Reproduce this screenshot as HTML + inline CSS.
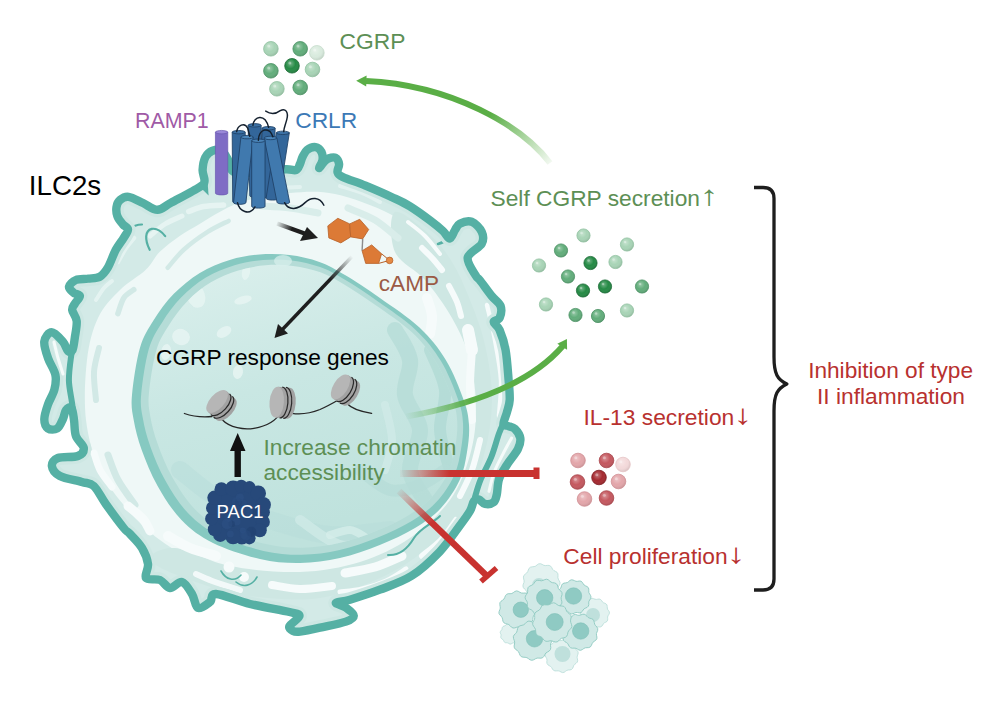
<!DOCTYPE html>
<html><head><meta charset="utf-8"><title>ILC2 CGRP</title>
<style>html,body{margin:0;padding:0;background:#fff}svg{display:block}text{font-family:"Liberation Sans",sans-serif}</style>
</head><body>
<svg width="1004" height="702" viewBox="0 0 1004 702">
<rect width="1004" height="702" fill="#fff"/>
<defs>
<clipPath id="cellclip"><path d="M199.7 187.0C205.2 183.4 204.0 183.8 204.5 181.0C205.0 178.2 202.4 173.9 202.6 169.9C202.8 165.9 203.8 160.3 205.4 157.1C207.1 153.9 209.7 151.7 212.5 150.7C215.3 149.7 219.4 149.4 222.0 151.0C224.6 152.6 226.2 156.5 228.2 160.0C230.2 163.5 228.6 170.0 233.9 172.0C239.2 174.0 251.4 172.5 260.0 172.0C268.6 171.5 279.7 169.5 285.7 169.2C291.7 168.9 293.6 170.9 296.0 170.0C298.4 169.1 298.9 166.2 300.0 164.0C301.1 161.8 301.3 159.3 302.5 157.0C303.7 154.7 304.8 151.7 307.0 150.0C309.2 148.3 313.2 146.8 315.6 147.1C318.0 147.4 320.4 149.8 321.5 152.0C322.6 154.2 322.9 157.3 322.5 160.0C322.1 162.7 318.8 167.7 319.0 168.0C319.2 168.3 322.4 163.6 324.0 162.0C325.6 160.4 326.5 159.2 328.4 158.5C330.3 157.8 333.8 156.9 335.6 157.8C337.4 158.8 338.8 161.8 339.1 164.2C339.4 166.6 336.9 169.9 337.5 172.0C338.1 174.1 338.0 174.7 342.7 177.0C347.4 179.3 357.3 182.2 365.5 185.6C373.7 189.0 384.6 193.7 392.0 197.2C399.4 200.7 403.7 202.5 410.0 206.4C416.3 210.3 424.5 216.3 430.0 220.4C435.5 224.5 439.7 228.0 443.0 231.0C446.3 234.0 447.8 238.7 449.8 238.5C451.8 238.3 453.3 232.5 455.0 230.0C456.7 227.5 457.0 225.1 459.8 223.7C462.6 222.3 468.1 220.5 471.7 221.8C475.3 223.1 480.0 228.0 481.7 231.7C483.4 235.3 484.0 239.4 481.7 243.7C479.4 248.0 468.7 252.3 467.7 257.6C466.7 262.9 473.7 271.9 475.7 275.6C477.7 279.3 477.0 276.6 479.7 280.0C482.4 283.4 488.2 291.7 491.7 296.0C495.2 300.3 499.3 302.3 500.6 306.0C501.9 309.7 500.8 315.3 499.6 318.0C498.5 320.7 493.7 320.0 493.7 322.0C493.7 324.0 497.6 325.3 499.6 330.0C501.6 334.7 504.1 341.7 505.6 350.0C507.1 358.3 507.9 371.7 508.6 380.0C509.3 388.3 510.0 394.7 509.7 400.0C509.4 405.3 508.0 408.0 507.0 412.0C506.0 416.0 503.3 421.7 503.5 424.0C503.7 426.3 506.1 425.2 508.0 426.0C509.9 426.8 512.8 426.8 514.8 428.8C516.8 430.8 519.8 434.8 520.3 438.2C520.8 441.6 520.1 444.7 517.9 449.1C515.7 453.5 510.1 459.8 507.0 464.8C503.9 469.8 500.8 473.9 499.1 478.9C497.4 483.8 497.7 490.6 496.8 494.5C495.9 498.4 495.6 500.7 493.6 502.3C491.6 503.9 487.4 504.4 485.0 503.9C482.6 503.4 480.8 500.0 479.0 499.5C477.2 499.0 475.5 499.1 474.0 501.0C472.5 502.9 472.4 506.8 470.0 511.0C467.6 515.2 464.6 519.2 459.5 526.0C454.4 532.8 447.6 543.5 439.6 551.8C431.6 560.1 421.7 569.5 411.7 575.8C401.7 582.1 390.1 585.7 379.8 589.7C369.5 593.7 357.2 597.5 349.9 599.7C342.6 601.9 336.6 601.4 335.9 602.7C335.2 604.0 342.9 605.5 345.9 607.7C348.9 609.9 353.8 613.4 353.8 615.7C353.8 618.0 351.5 619.6 345.9 621.6C340.3 623.6 327.6 625.9 320.0 627.6C312.4 629.3 304.5 631.0 300.0 631.6C295.5 632.2 294.8 631.9 293.0 631.0C291.2 630.1 288.4 628.5 289.5 626.0C290.6 623.5 299.5 618.3 299.5 616.0C299.5 613.7 297.8 614.0 289.5 612.0C281.2 610.0 262.2 607.0 250.0 604.0C237.8 601.0 222.7 594.3 216.0 594.0C209.3 593.7 213.0 599.7 210.0 602.0C207.0 604.3 201.0 609.3 198.0 608.0C195.0 606.7 194.7 598.3 192.0 594.0C189.3 589.7 185.7 583.0 182.0 582.0C178.3 581.0 173.7 588.3 170.0 588.0C166.3 587.7 164.0 581.7 160.0 580.0C156.0 578.3 148.0 580.7 146.0 578.0C144.0 575.3 148.7 569.0 148.0 564.0C147.3 559.0 145.0 553.0 142.0 548.0C139.0 543.0 133.1 537.3 130.0 534.0C127.0 530.7 127.7 533.0 123.7 528.0C119.7 523.0 110.8 511.0 105.8 504.0C100.8 497.0 97.8 489.7 93.8 486.0C89.8 482.3 87.5 483.7 81.8 482.0C76.1 480.3 64.9 478.7 59.9 476.0C54.9 473.3 52.2 469.0 51.9 466.0C51.6 463.0 53.6 459.7 57.9 458.0C62.2 456.3 73.6 457.7 77.9 456.0C82.2 454.3 84.1 451.3 83.8 448.0C83.5 444.7 77.5 440.7 75.9 436.0C74.3 431.3 74.7 424.7 74.0 420.0C73.3 415.3 72.8 409.7 71.5 408.0C70.2 406.3 67.5 408.1 66.0 410.0C64.5 411.9 64.3 416.2 62.8 419.3C61.3 422.4 59.7 427.0 57.2 428.5C54.7 430.0 50.1 430.0 48.0 428.5C45.9 427.0 44.3 423.3 44.3 419.3C44.3 415.3 46.3 409.3 48.0 404.4C49.7 399.4 53.2 394.5 54.4 389.6C55.6 384.7 56.5 380.1 55.4 374.8C54.3 369.6 49.9 363.7 48.0 358.1C46.1 352.6 43.7 345.8 44.3 341.5C44.9 337.2 48.6 332.2 51.7 332.2C54.8 332.2 60.1 338.4 62.8 341.5C65.5 344.6 66.4 349.6 68.0 351.0C69.6 352.4 71.4 352.2 72.5 350.0C73.6 347.8 74.1 342.6 74.8 337.8C75.5 333.0 77.1 325.7 76.7 321.1C76.3 316.5 72.5 312.9 72.2 310.0C71.9 307.1 73.6 305.9 74.9 303.6C76.2 301.3 80.1 297.8 79.9 296.0C79.7 294.2 75.3 294.2 73.5 292.7C71.7 291.1 68.6 288.8 69.0 286.7C69.4 284.6 72.8 281.3 75.9 280.0C79.1 278.7 83.9 279.2 87.9 278.7C91.9 278.1 96.5 278.5 99.8 276.7C103.1 274.9 105.1 272.2 107.8 267.7C110.5 263.2 113.1 254.8 115.8 249.8C118.5 244.8 121.7 241.2 123.7 237.8C125.7 234.4 128.1 231.7 128.0 229.5C127.9 227.3 124.8 226.7 123.0 224.5C121.2 222.3 118.6 219.4 117.5 216.5C116.4 213.6 116.1 209.8 116.5 207.0C116.9 204.2 118.0 201.7 120.0 200.0C122.0 198.3 124.7 196.3 128.5 196.8C132.3 197.3 138.2 200.8 143.0 203.0C147.8 205.2 152.8 209.9 157.5 209.8C162.2 209.7 164.2 206.4 171.2 202.6C178.2 198.8 194.1 190.6 199.7 187.0Z"/></clipPath>
<clipPath id="nucclip"><path d="M132.0 395.0C133.1 382.9 136.3 360.2 140.0 347.7C143.7 335.2 148.3 328.8 153.9 319.8C159.5 310.8 166.2 301.6 173.8 293.8C181.5 286.0 190.5 278.5 199.8 272.9C209.1 267.2 219.7 263.0 229.7 259.9C239.7 256.8 249.6 255.2 259.6 254.4C269.6 253.6 279.5 253.8 289.5 255.0C299.5 256.2 310.1 258.6 319.4 261.9C328.6 265.2 335.0 269.0 345.0 275.0C355.0 281.0 367.2 288.9 379.6 297.7C392.0 306.5 408.5 317.2 419.5 327.6C430.5 338.0 438.4 347.9 445.8 360.0C453.2 372.1 459.8 389.2 463.7 400.0C467.6 410.8 468.4 416.3 469.0 425.0C469.6 433.7 468.5 442.9 467.0 452.0C465.5 461.1 464.1 470.5 459.8 479.8C455.5 489.1 448.5 500.0 441.0 508.0C433.5 516.0 425.2 521.8 415.0 528.0C404.8 534.2 392.3 540.0 379.8 545.0C367.3 550.0 353.2 555.0 339.9 558.0C326.6 561.0 313.3 562.8 300.0 563.0C286.7 563.2 274.5 562.3 260.0 559.0C245.5 555.7 226.1 549.5 213.0 543.0C199.9 536.5 190.7 529.5 181.5 520.0C172.3 510.5 164.2 497.7 157.6 486.0C151.0 474.3 145.7 461.0 141.7 450.0C137.7 439.0 135.3 429.2 133.7 420.0C132.1 410.8 130.9 407.1 132.0 395.0Z"/></clipPath>
<linearGradient id="nucg" x1="0" y1="0" x2="0.3" y2="1"><stop offset="0" stop-color="#dcf0ed"/><stop offset="0.5" stop-color="#c9e7e3"/><stop offset="1" stop-color="#bfe2dd"/></linearGradient>
<radialGradient id="gd" cx="0.4" cy="0.35" r="0.7"><stop offset="0" stop-color="#fff" stop-opacity="0.35"/><stop offset="0.5" stop-color="#fff" stop-opacity="0"/><stop offset="1" stop-color="#000" stop-opacity="0.15"/></radialGradient>
<linearGradient id="ga1" gradientUnits="userSpaceOnUse" x1="556" y1="167" x2="492" y2="112"><stop offset="0" stop-color="#5aae46" stop-opacity="0"/><stop offset="1" stop-color="#5aae46" stop-opacity="1"/></linearGradient>
<linearGradient id="ga2" gradientUnits="userSpaceOnUse" x1="405" y1="415" x2="470" y2="400"><stop offset="0" stop-color="#5aae46" stop-opacity="0"/><stop offset="1" stop-color="#5aae46" stop-opacity="1"/></linearGradient>
<linearGradient id="gr1" gradientUnits="userSpaceOnUse" x1="398" y1="474" x2="450" y2="474"><stop offset="0" stop-color="#c8322f" stop-opacity="0"/><stop offset="1" stop-color="#c8322f" stop-opacity="1"/></linearGradient>
<linearGradient id="gr2" gradientUnits="userSpaceOnUse" x1="397" y1="489" x2="432" y2="523"><stop offset="0" stop-color="#c8322f" stop-opacity="0"/><stop offset="1" stop-color="#c8322f" stop-opacity="1"/></linearGradient>
<linearGradient id="gb1" gradientUnits="userSpaceOnUse" x1="276" y1="223" x2="292" y2="229"><stop offset="0" stop-color="#1e1e1e" stop-opacity="0"/><stop offset="1" stop-color="#1e1e1e" stop-opacity="1"/></linearGradient>
<linearGradient id="gb2" gradientUnits="userSpaceOnUse" x1="352" y1="256" x2="330" y2="280"><stop offset="0" stop-color="#1e1e1e" stop-opacity="0"/><stop offset="1" stop-color="#1e1e1e" stop-opacity="1"/></linearGradient>
</defs>
<path d="M199.7 187.0C205.2 183.4 204.0 183.8 204.5 181.0C205.0 178.2 202.4 173.9 202.6 169.9C202.8 165.9 203.8 160.3 205.4 157.1C207.1 153.9 209.7 151.7 212.5 150.7C215.3 149.7 219.4 149.4 222.0 151.0C224.6 152.6 226.2 156.5 228.2 160.0C230.2 163.5 228.6 170.0 233.9 172.0C239.2 174.0 251.4 172.5 260.0 172.0C268.6 171.5 279.7 169.5 285.7 169.2C291.7 168.9 293.6 170.9 296.0 170.0C298.4 169.1 298.9 166.2 300.0 164.0C301.1 161.8 301.3 159.3 302.5 157.0C303.7 154.7 304.8 151.7 307.0 150.0C309.2 148.3 313.2 146.8 315.6 147.1C318.0 147.4 320.4 149.8 321.5 152.0C322.6 154.2 322.9 157.3 322.5 160.0C322.1 162.7 318.8 167.7 319.0 168.0C319.2 168.3 322.4 163.6 324.0 162.0C325.6 160.4 326.5 159.2 328.4 158.5C330.3 157.8 333.8 156.9 335.6 157.8C337.4 158.8 338.8 161.8 339.1 164.2C339.4 166.6 336.9 169.9 337.5 172.0C338.1 174.1 338.0 174.7 342.7 177.0C347.4 179.3 357.3 182.2 365.5 185.6C373.7 189.0 384.6 193.7 392.0 197.2C399.4 200.7 403.7 202.5 410.0 206.4C416.3 210.3 424.5 216.3 430.0 220.4C435.5 224.5 439.7 228.0 443.0 231.0C446.3 234.0 447.8 238.7 449.8 238.5C451.8 238.3 453.3 232.5 455.0 230.0C456.7 227.5 457.0 225.1 459.8 223.7C462.6 222.3 468.1 220.5 471.7 221.8C475.3 223.1 480.0 228.0 481.7 231.7C483.4 235.3 484.0 239.4 481.7 243.7C479.4 248.0 468.7 252.3 467.7 257.6C466.7 262.9 473.7 271.9 475.7 275.6C477.7 279.3 477.0 276.6 479.7 280.0C482.4 283.4 488.2 291.7 491.7 296.0C495.2 300.3 499.3 302.3 500.6 306.0C501.9 309.7 500.8 315.3 499.6 318.0C498.5 320.7 493.7 320.0 493.7 322.0C493.7 324.0 497.6 325.3 499.6 330.0C501.6 334.7 504.1 341.7 505.6 350.0C507.1 358.3 507.9 371.7 508.6 380.0C509.3 388.3 510.0 394.7 509.7 400.0C509.4 405.3 508.0 408.0 507.0 412.0C506.0 416.0 503.3 421.7 503.5 424.0C503.7 426.3 506.1 425.2 508.0 426.0C509.9 426.8 512.8 426.8 514.8 428.8C516.8 430.8 519.8 434.8 520.3 438.2C520.8 441.6 520.1 444.7 517.9 449.1C515.7 453.5 510.1 459.8 507.0 464.8C503.9 469.8 500.8 473.9 499.1 478.9C497.4 483.8 497.7 490.6 496.8 494.5C495.9 498.4 495.6 500.7 493.6 502.3C491.6 503.9 487.4 504.4 485.0 503.9C482.6 503.4 480.8 500.0 479.0 499.5C477.2 499.0 475.5 499.1 474.0 501.0C472.5 502.9 472.4 506.8 470.0 511.0C467.6 515.2 464.6 519.2 459.5 526.0C454.4 532.8 447.6 543.5 439.6 551.8C431.6 560.1 421.7 569.5 411.7 575.8C401.7 582.1 390.1 585.7 379.8 589.7C369.5 593.7 357.2 597.5 349.9 599.7C342.6 601.9 336.6 601.4 335.9 602.7C335.2 604.0 342.9 605.5 345.9 607.7C348.9 609.9 353.8 613.4 353.8 615.7C353.8 618.0 351.5 619.6 345.9 621.6C340.3 623.6 327.6 625.9 320.0 627.6C312.4 629.3 304.5 631.0 300.0 631.6C295.5 632.2 294.8 631.9 293.0 631.0C291.2 630.1 288.4 628.5 289.5 626.0C290.6 623.5 299.5 618.3 299.5 616.0C299.5 613.7 297.8 614.0 289.5 612.0C281.2 610.0 262.2 607.0 250.0 604.0C237.8 601.0 222.7 594.3 216.0 594.0C209.3 593.7 213.0 599.7 210.0 602.0C207.0 604.3 201.0 609.3 198.0 608.0C195.0 606.7 194.7 598.3 192.0 594.0C189.3 589.7 185.7 583.0 182.0 582.0C178.3 581.0 173.7 588.3 170.0 588.0C166.3 587.7 164.0 581.7 160.0 580.0C156.0 578.3 148.0 580.7 146.0 578.0C144.0 575.3 148.7 569.0 148.0 564.0C147.3 559.0 145.0 553.0 142.0 548.0C139.0 543.0 133.1 537.3 130.0 534.0C127.0 530.7 127.7 533.0 123.7 528.0C119.7 523.0 110.8 511.0 105.8 504.0C100.8 497.0 97.8 489.7 93.8 486.0C89.8 482.3 87.5 483.7 81.8 482.0C76.1 480.3 64.9 478.7 59.9 476.0C54.9 473.3 52.2 469.0 51.9 466.0C51.6 463.0 53.6 459.7 57.9 458.0C62.2 456.3 73.6 457.7 77.9 456.0C82.2 454.3 84.1 451.3 83.8 448.0C83.5 444.7 77.5 440.7 75.9 436.0C74.3 431.3 74.7 424.7 74.0 420.0C73.3 415.3 72.8 409.7 71.5 408.0C70.2 406.3 67.5 408.1 66.0 410.0C64.5 411.9 64.3 416.2 62.8 419.3C61.3 422.4 59.7 427.0 57.2 428.5C54.7 430.0 50.1 430.0 48.0 428.5C45.9 427.0 44.3 423.3 44.3 419.3C44.3 415.3 46.3 409.3 48.0 404.4C49.7 399.4 53.2 394.5 54.4 389.6C55.6 384.7 56.5 380.1 55.4 374.8C54.3 369.6 49.9 363.7 48.0 358.1C46.1 352.6 43.7 345.8 44.3 341.5C44.9 337.2 48.6 332.2 51.7 332.2C54.8 332.2 60.1 338.4 62.8 341.5C65.5 344.6 66.4 349.6 68.0 351.0C69.6 352.4 71.4 352.2 72.5 350.0C73.6 347.8 74.1 342.6 74.8 337.8C75.5 333.0 77.1 325.7 76.7 321.1C76.3 316.5 72.5 312.9 72.2 310.0C71.9 307.1 73.6 305.9 74.9 303.6C76.2 301.3 80.1 297.8 79.9 296.0C79.7 294.2 75.3 294.2 73.5 292.7C71.7 291.1 68.6 288.8 69.0 286.7C69.4 284.6 72.8 281.3 75.9 280.0C79.1 278.7 83.9 279.2 87.9 278.7C91.9 278.1 96.5 278.5 99.8 276.7C103.1 274.9 105.1 272.2 107.8 267.7C110.5 263.2 113.1 254.8 115.8 249.8C118.5 244.8 121.7 241.2 123.7 237.8C125.7 234.4 128.1 231.7 128.0 229.5C127.9 227.3 124.8 226.7 123.0 224.5C121.2 222.3 118.6 219.4 117.5 216.5C116.4 213.6 116.1 209.8 116.5 207.0C116.9 204.2 118.0 201.7 120.0 200.0C122.0 198.3 124.7 196.3 128.5 196.8C132.3 197.3 138.2 200.8 143.0 203.0C147.8 205.2 152.8 209.9 157.5 209.8C162.2 209.7 164.2 206.4 171.2 202.6C178.2 198.8 194.1 190.6 199.7 187.0Z" fill="#d3eae7"/>
<g clip-path="url(#cellclip)">
<path d="M145.8 269.8C152.4 263.4 154.2 257.4 159.8 251.8C165.5 246.2 173.1 240.6 179.7 235.9C186.3 231.2 192.9 227.9 199.6 223.9C206.2 219.9 212.0 215.7 219.6 211.9C227.2 208.1 233.3 204.2 245.0 201.0C256.7 197.8 275.0 194.2 290.0 193.0C305.0 191.8 318.3 190.5 335.0 194.0C351.7 197.5 375.0 206.3 390.0 214.0C405.0 221.7 416.7 229.8 425.0 240.0C433.3 250.2 435.0 265.0 440.0 275.0C445.0 285.0 450.0 289.2 455.0 300.0C460.0 310.8 465.8 323.3 470.0 340.0C474.2 356.7 480.0 378.3 480.0 400.0C480.0 421.7 476.7 450.0 470.0 470.0C463.3 490.0 452.5 505.7 440.0 520.0C427.5 534.3 413.3 547.0 395.0 556.0C376.7 565.0 352.5 571.0 330.0 574.0C307.5 577.0 281.7 576.0 260.0 574.0C238.3 572.0 216.7 567.7 200.0 562.0C183.3 556.3 172.0 548.7 160.0 540.0C148.0 531.3 138.0 521.7 128.0 510.0C118.0 498.3 107.0 485.0 100.0 470.0C93.0 455.0 88.2 438.3 86.0 420.0C83.8 401.7 85.0 377.0 87.0 360.0C89.0 343.0 92.5 329.7 98.0 318.0C103.5 306.3 112.0 298.0 120.0 290.0C128.0 282.0 139.2 276.2 145.8 269.8Z" fill="#eff8f7"/>
<path d="M395.0 212.0C400.8 209.2 420.5 226.7 430.0 235.0C439.5 243.3 445.3 251.2 452.0 262.0C458.7 272.8 464.5 286.2 470.0 300.0C475.5 313.8 481.3 328.3 485.0 345.0C488.7 361.7 492.2 381.7 492.0 400.0C491.8 418.3 489.0 436.7 484.0 455.0C479.0 473.3 471.8 494.2 462.0 510.0C452.2 525.8 438.7 538.7 425.0 550.0C411.3 561.3 397.5 570.0 380.0 578.0C362.5 586.0 341.7 595.0 320.0 598.0C298.3 601.0 271.7 599.0 250.0 596.0C228.3 593.0 206.7 586.0 190.0 580.0C173.3 574.0 152.5 565.3 150.0 560.0C147.5 554.7 161.7 547.0 175.0 548.0C188.3 549.0 209.2 562.0 230.0 566.0C250.8 570.0 278.3 572.7 300.0 572.0C321.7 571.3 341.7 567.7 360.0 562.0C378.3 556.3 395.0 548.3 410.0 538.0C425.0 527.7 440.0 513.8 450.0 500.0C460.0 486.2 465.7 470.0 470.0 455.0C474.3 440.0 476.0 425.8 476.0 410.0C476.0 394.2 474.0 375.3 470.0 360.0C466.0 344.7 459.5 331.3 452.0 318.0C444.5 304.7 434.5 291.0 425.0 280.0C415.5 269.0 400.0 263.3 395.0 252.0C390.0 240.7 389.2 214.8 395.0 212.0Z" fill="#cee7e3"/>
<path d="M188.7 211.5C191.2 210.7 197.8 207.6 203.6 206.5C209.4 205.4 220.3 205.2 223.6 205.0" fill="none" stroke="#e6f4f2" stroke-width="5.5" stroke-linecap="round" stroke-linejoin="round" opacity="1"/>
<path d="M150.0 236.0C152.5 234.0 159.7 227.3 165.0 224.0C170.3 220.7 179.2 217.3 182.0 216.0" fill="none" stroke="#e6f4f2" stroke-width="5" stroke-linecap="round" stroke-linejoin="round" opacity="1"/>
<path d="M118.0 262.0C119.3 259.7 123.3 252.0 126.0 248.0C128.7 244.0 132.7 239.7 134.0 238.0" fill="none" stroke="#e6f4f2" stroke-width="4.5" stroke-linecap="round" stroke-linejoin="round" opacity="0.9"/>
<path d="M96.0 300.0C97.3 298.0 101.3 291.2 104.0 288.0C106.7 284.8 110.7 282.2 112.0 281.0" fill="none" stroke="#e6f4f2" stroke-width="4" stroke-linecap="round" stroke-linejoin="round" opacity="0.9"/>
<path d="M250.0 192.0C254.2 191.3 266.7 188.8 275.0 188.0C283.3 187.2 295.8 187.2 300.0 187.0" fill="none" stroke="#e6f4f2" stroke-width="4" stroke-linecap="round" stroke-linejoin="round" opacity="0.8"/>
<path d="M340.0 186.0C343.7 187.2 355.3 190.3 362.0 193.0C368.7 195.7 377.0 200.5 380.0 202.0" fill="none" stroke="#e6f4f2" stroke-width="4" stroke-linecap="round" stroke-linejoin="round" opacity="0.8"/>
<path d="M167.7 267.8C170.4 264.8 177.0 255.8 183.7 249.8C190.3 243.8 200.1 236.7 207.6 231.9C215.1 227.1 225.1 222.7 228.6 220.9" fill="none" stroke="#d2e9e6" stroke-width="4.5" stroke-linecap="round" stroke-linejoin="round" opacity="1"/>
<path d="M117.9 313.6C118.9 311.0 121.2 301.7 123.9 297.7C126.6 293.7 132.2 291.0 133.8 289.7" fill="none" stroke="#d2e9e6" stroke-width="5.5" stroke-linecap="round" stroke-linejoin="round" opacity="1"/>
<path d="M96.0 400.0C95.7 395.3 93.5 380.7 94.0 372.0C94.5 363.3 98.2 352.0 99.0 348.0" fill="none" stroke="#d2e9e6" stroke-width="6" stroke-linecap="round" stroke-linejoin="round" opacity="1"/>
<path d="M108.0 455.0C109.7 459.2 113.5 471.7 118.0 480.0C122.5 488.3 132.2 500.8 135.0 505.0" fill="none" stroke="#d2e9e6" stroke-width="7" stroke-linecap="round" stroke-linejoin="round" opacity="1"/>
<path d="M262.0 206.0C266.7 206.3 280.7 206.8 290.0 208.0C299.3 209.2 313.3 212.2 318.0 213.0" fill="none" stroke="#d9edea" stroke-width="7" stroke-linecap="round" stroke-linejoin="round" opacity="1"/>
<path d="M348.0 208.0C352.5 210.0 366.7 215.0 375.0 220.0C383.3 225.0 394.2 235.0 398.0 238.0" fill="none" stroke="#d9edea" stroke-width="7" stroke-linecap="round" stroke-linejoin="round" opacity="1"/>
<path d="M427.0 298.0C427.8 301.0 431.5 310.0 432.0 316.0C432.5 322.0 430.3 331.0 430.0 334.0" fill="none" stroke="#f6fbfb" stroke-width="10" stroke-linecap="round" stroke-linejoin="round" opacity="1"/>
<path d="M449.0 286.0C450.3 288.7 455.0 297.0 457.0 302.0C459.0 307.0 460.3 313.7 461.0 316.0" fill="none" stroke="#f6fbfb" stroke-width="6" stroke-linecap="round" stroke-linejoin="round" opacity="1"/>
<path d="M468.0 330.0C468.7 333.3 471.3 346.7 472.0 350.0" fill="none" stroke="#f6fbfb" stroke-width="12" stroke-linecap="round" stroke-linejoin="round" opacity="1"/>
<path d="M472.0 350.0C471.7 355.8 470.0 373.3 470.0 385.0C470.0 396.7 471.7 414.2 472.0 420.0" fill="none" stroke="#f6fbfb" stroke-width="8" stroke-linecap="round" stroke-linejoin="round" opacity="1"/>
<path d="M487.0 305.0C488.3 310.8 492.7 327.5 495.0 340.0C497.3 352.5 500.3 367.3 501.0 380.0C501.7 392.7 499.3 410.0 499.0 416.0" fill="none" stroke="#f6fbfb" stroke-width="4.5" stroke-linecap="round" stroke-linejoin="round" opacity="1"/>
<path d="M422.0 248.0C423.8 249.8 429.7 255.3 433.0 259.0C436.3 262.7 440.5 268.2 442.0 270.0" fill="none" stroke="#f6fbfb" stroke-width="6" stroke-linecap="round" stroke-linejoin="round" opacity="1"/>
<path d="M408.0 222.0C410.8 224.3 419.7 230.7 425.0 236.0C430.3 241.3 437.5 251.0 440.0 254.0" fill="none" stroke="#f6fbfb" stroke-width="4" stroke-linecap="round" stroke-linejoin="round" opacity="1"/>
<path d="M480.0 440.0C478.7 445.0 475.3 460.7 472.0 470.0C468.7 479.3 462.0 491.7 460.0 496.0" fill="none" stroke="#f6fbfb" stroke-width="6" stroke-linecap="round" stroke-linejoin="round" opacity="1"/>
<path d="M456.0 520.0C453.5 523.3 446.7 534.0 441.0 540.0C435.3 546.0 425.2 553.3 422.0 556.0" fill="none" stroke="#f6fbfb" stroke-width="6" stroke-linecap="round" stroke-linejoin="round" opacity="1"/>
<path d="M452.0 425.0C451.7 429.2 451.3 442.5 450.0 450.0C448.7 457.5 445.0 466.7 444.0 470.0" fill="none" stroke="#f6fbfb" stroke-width="5" stroke-linecap="round" stroke-linejoin="round" opacity="0.8"/>
<path d="M168.0 536.0C171.7 538.0 182.0 544.7 190.0 548.0C198.0 551.3 211.7 554.7 216.0 556.0" fill="none" stroke="#f6fbfb" stroke-width="10" stroke-linecap="round" stroke-linejoin="round" opacity="1"/>
<path d="M128.0 506.0C130.5 508.2 139.3 514.8 143.0 519.0C146.7 523.2 148.8 529.0 150.0 531.0" fill="none" stroke="#f6fbfb" stroke-width="9" stroke-linecap="round" stroke-linejoin="round" opacity="1"/>
<path d="M345.0 573.0C350.0 572.0 365.5 569.8 375.0 567.0C384.5 564.2 397.5 557.8 402.0 556.0" fill="none" stroke="#f6fbfb" stroke-width="9" stroke-linecap="round" stroke-linejoin="round" opacity="1"/>
<path d="M272.0 585.0C276.7 585.7 290.0 588.8 300.0 589.0C310.0 589.2 326.7 586.5 332.0 586.0" fill="none" stroke="#f6fbfb" stroke-width="8" stroke-linecap="round" stroke-linejoin="round" opacity="1"/>
<path d="M340.0 592.0C343.7 591.5 354.3 590.8 362.0 589.0C369.7 587.2 378.7 584.3 386.0 581.0C393.3 577.7 402.7 571.0 406.0 569.0" fill="none" stroke="#f6fbfb" stroke-width="5" stroke-linecap="round" stroke-linejoin="round" opacity="1"/>
<path d="M94.0 453.0C95.0 455.8 97.0 464.3 100.0 470.0C103.0 475.7 110.0 484.2 112.0 487.0" fill="none" stroke="#f6fbfb" stroke-width="7" stroke-linecap="round" stroke-linejoin="round" opacity="1"/>
<path d="M196.0 574.0C199.2 575.3 207.7 579.3 215.0 582.0C222.3 584.7 235.8 588.7 240.0 590.0" fill="none" stroke="#f6fbfb" stroke-width="6" stroke-linecap="round" stroke-linejoin="round" opacity="0.9"/>
<circle cx="229" cy="567" r="5.5" fill="#f6fbfb"/>
<circle cx="244" cy="577" r="5" fill="#f6fbfb"/>
<path d="M221 571 C226 580 235 582 241 575 M236 582 C243 588 252 586 257 577" fill="none" stroke="#55b0a4" stroke-width="1.6" stroke-linecap="round"/>
<path d="M149.7 249.8 C144.7 239.8 144.7 230.8 151.7 228.9 C157.6 227.9 162.6 232.8 165.2 236.2" fill="none" stroke="#55b0a4" stroke-width="2.2" stroke-linecap="round"/>
<path d="M128 229.5 C133 226 138 224.5 142 224.5" fill="none" stroke="#55b0a4" stroke-width="2.2" stroke-linecap="round"/>
<path d="M449 238 C446 241 442 243 438 244" fill="none" stroke="#55b0a4" stroke-width="2.5" stroke-linecap="round"/>
<path d="M388 555 C400 556 408 548 414 538 C420 528 432 524 440 516" fill="none" stroke="#55b0a4" stroke-width="2" stroke-linecap="round"/>
<path d="M199.7 187.0C205.2 183.4 204.0 183.8 204.5 181.0C205.0 178.2 202.4 173.9 202.6 169.9C202.8 165.9 203.8 160.3 205.4 157.1C207.1 153.9 209.7 151.7 212.5 150.7C215.3 149.7 219.4 149.4 222.0 151.0C224.6 152.6 226.2 156.5 228.2 160.0C230.2 163.5 228.6 170.0 233.9 172.0C239.2 174.0 251.4 172.5 260.0 172.0C268.6 171.5 279.7 169.5 285.7 169.2C291.7 168.9 293.6 170.9 296.0 170.0C298.4 169.1 298.9 166.2 300.0 164.0C301.1 161.8 301.3 159.3 302.5 157.0C303.7 154.7 304.8 151.7 307.0 150.0C309.2 148.3 313.2 146.8 315.6 147.1C318.0 147.4 320.4 149.8 321.5 152.0C322.6 154.2 322.9 157.3 322.5 160.0C322.1 162.7 318.8 167.7 319.0 168.0C319.2 168.3 322.4 163.6 324.0 162.0C325.6 160.4 326.5 159.2 328.4 158.5C330.3 157.8 333.8 156.9 335.6 157.8C337.4 158.8 338.8 161.8 339.1 164.2C339.4 166.6 336.9 169.9 337.5 172.0C338.1 174.1 338.0 174.7 342.7 177.0C347.4 179.3 357.3 182.2 365.5 185.6C373.7 189.0 384.6 193.7 392.0 197.2C399.4 200.7 403.7 202.5 410.0 206.4C416.3 210.3 424.5 216.3 430.0 220.4C435.5 224.5 439.7 228.0 443.0 231.0C446.3 234.0 447.8 238.7 449.8 238.5C451.8 238.3 453.3 232.5 455.0 230.0C456.7 227.5 457.0 225.1 459.8 223.7C462.6 222.3 468.1 220.5 471.7 221.8C475.3 223.1 480.0 228.0 481.7 231.7C483.4 235.3 484.0 239.4 481.7 243.7C479.4 248.0 468.7 252.3 467.7 257.6C466.7 262.9 473.7 271.9 475.7 275.6C477.7 279.3 477.0 276.6 479.7 280.0C482.4 283.4 488.2 291.7 491.7 296.0C495.2 300.3 499.3 302.3 500.6 306.0C501.9 309.7 500.8 315.3 499.6 318.0C498.5 320.7 493.7 320.0 493.7 322.0C493.7 324.0 497.6 325.3 499.6 330.0C501.6 334.7 504.1 341.7 505.6 350.0C507.1 358.3 507.9 371.7 508.6 380.0C509.3 388.3 510.0 394.7 509.7 400.0C509.4 405.3 508.0 408.0 507.0 412.0C506.0 416.0 503.3 421.7 503.5 424.0C503.7 426.3 506.1 425.2 508.0 426.0C509.9 426.8 512.8 426.8 514.8 428.8C516.8 430.8 519.8 434.8 520.3 438.2C520.8 441.6 520.1 444.7 517.9 449.1C515.7 453.5 510.1 459.8 507.0 464.8C503.9 469.8 500.8 473.9 499.1 478.9C497.4 483.8 497.7 490.6 496.8 494.5C495.9 498.4 495.6 500.7 493.6 502.3C491.6 503.9 487.4 504.4 485.0 503.9C482.6 503.4 480.8 500.0 479.0 499.5C477.2 499.0 475.5 499.1 474.0 501.0C472.5 502.9 472.4 506.8 470.0 511.0C467.6 515.2 464.6 519.2 459.5 526.0C454.4 532.8 447.6 543.5 439.6 551.8C431.6 560.1 421.7 569.5 411.7 575.8C401.7 582.1 390.1 585.7 379.8 589.7C369.5 593.7 357.2 597.5 349.9 599.7C342.6 601.9 336.6 601.4 335.9 602.7C335.2 604.0 342.9 605.5 345.9 607.7C348.9 609.9 353.8 613.4 353.8 615.7C353.8 618.0 351.5 619.6 345.9 621.6C340.3 623.6 327.6 625.9 320.0 627.6C312.4 629.3 304.5 631.0 300.0 631.6C295.5 632.2 294.8 631.9 293.0 631.0C291.2 630.1 288.4 628.5 289.5 626.0C290.6 623.5 299.5 618.3 299.5 616.0C299.5 613.7 297.8 614.0 289.5 612.0C281.2 610.0 262.2 607.0 250.0 604.0C237.8 601.0 222.7 594.3 216.0 594.0C209.3 593.7 213.0 599.7 210.0 602.0C207.0 604.3 201.0 609.3 198.0 608.0C195.0 606.7 194.7 598.3 192.0 594.0C189.3 589.7 185.7 583.0 182.0 582.0C178.3 581.0 173.7 588.3 170.0 588.0C166.3 587.7 164.0 581.7 160.0 580.0C156.0 578.3 148.0 580.7 146.0 578.0C144.0 575.3 148.7 569.0 148.0 564.0C147.3 559.0 145.0 553.0 142.0 548.0C139.0 543.0 133.1 537.3 130.0 534.0C127.0 530.7 127.7 533.0 123.7 528.0C119.7 523.0 110.8 511.0 105.8 504.0C100.8 497.0 97.8 489.7 93.8 486.0C89.8 482.3 87.5 483.7 81.8 482.0C76.1 480.3 64.9 478.7 59.9 476.0C54.9 473.3 52.2 469.0 51.9 466.0C51.6 463.0 53.6 459.7 57.9 458.0C62.2 456.3 73.6 457.7 77.9 456.0C82.2 454.3 84.1 451.3 83.8 448.0C83.5 444.7 77.5 440.7 75.9 436.0C74.3 431.3 74.7 424.7 74.0 420.0C73.3 415.3 72.8 409.7 71.5 408.0C70.2 406.3 67.5 408.1 66.0 410.0C64.5 411.9 64.3 416.2 62.8 419.3C61.3 422.4 59.7 427.0 57.2 428.5C54.7 430.0 50.1 430.0 48.0 428.5C45.9 427.0 44.3 423.3 44.3 419.3C44.3 415.3 46.3 409.3 48.0 404.4C49.7 399.4 53.2 394.5 54.4 389.6C55.6 384.7 56.5 380.1 55.4 374.8C54.3 369.6 49.9 363.7 48.0 358.1C46.1 352.6 43.7 345.8 44.3 341.5C44.9 337.2 48.6 332.2 51.7 332.2C54.8 332.2 60.1 338.4 62.8 341.5C65.5 344.6 66.4 349.6 68.0 351.0C69.6 352.4 71.4 352.2 72.5 350.0C73.6 347.8 74.1 342.6 74.8 337.8C75.5 333.0 77.1 325.7 76.7 321.1C76.3 316.5 72.5 312.9 72.2 310.0C71.9 307.1 73.6 305.9 74.9 303.6C76.2 301.3 80.1 297.8 79.9 296.0C79.7 294.2 75.3 294.2 73.5 292.7C71.7 291.1 68.6 288.8 69.0 286.7C69.4 284.6 72.8 281.3 75.9 280.0C79.1 278.7 83.9 279.2 87.9 278.7C91.9 278.1 96.5 278.5 99.8 276.7C103.1 274.9 105.1 272.2 107.8 267.7C110.5 263.2 113.1 254.8 115.8 249.8C118.5 244.8 121.7 241.2 123.7 237.8C125.7 234.4 128.1 231.7 128.0 229.5C127.9 227.3 124.8 226.7 123.0 224.5C121.2 222.3 118.6 219.4 117.5 216.5C116.4 213.6 116.1 209.8 116.5 207.0C116.9 204.2 118.0 201.7 120.0 200.0C122.0 198.3 124.7 196.3 128.5 196.8C132.3 197.3 138.2 200.8 143.0 203.0C147.8 205.2 152.8 209.9 157.5 209.8C162.2 209.7 164.2 206.4 171.2 202.6C178.2 198.8 194.1 190.6 199.7 187.0Z" fill="none" stroke="#cde7e3" stroke-width="15"/>
</g>
<path d="M199.7 187.0C205.2 183.4 204.0 183.8 204.5 181.0C205.0 178.2 202.4 173.9 202.6 169.9C202.8 165.9 203.8 160.3 205.4 157.1C207.1 153.9 209.7 151.7 212.5 150.7C215.3 149.7 219.4 149.4 222.0 151.0C224.6 152.6 226.2 156.5 228.2 160.0C230.2 163.5 228.6 170.0 233.9 172.0C239.2 174.0 251.4 172.5 260.0 172.0C268.6 171.5 279.7 169.5 285.7 169.2C291.7 168.9 293.6 170.9 296.0 170.0C298.4 169.1 298.9 166.2 300.0 164.0C301.1 161.8 301.3 159.3 302.5 157.0C303.7 154.7 304.8 151.7 307.0 150.0C309.2 148.3 313.2 146.8 315.6 147.1C318.0 147.4 320.4 149.8 321.5 152.0C322.6 154.2 322.9 157.3 322.5 160.0C322.1 162.7 318.8 167.7 319.0 168.0C319.2 168.3 322.4 163.6 324.0 162.0C325.6 160.4 326.5 159.2 328.4 158.5C330.3 157.8 333.8 156.9 335.6 157.8C337.4 158.8 338.8 161.8 339.1 164.2C339.4 166.6 336.9 169.9 337.5 172.0C338.1 174.1 338.0 174.7 342.7 177.0C347.4 179.3 357.3 182.2 365.5 185.6C373.7 189.0 384.6 193.7 392.0 197.2C399.4 200.7 403.7 202.5 410.0 206.4C416.3 210.3 424.5 216.3 430.0 220.4C435.5 224.5 439.7 228.0 443.0 231.0C446.3 234.0 447.8 238.7 449.8 238.5C451.8 238.3 453.3 232.5 455.0 230.0C456.7 227.5 457.0 225.1 459.8 223.7C462.6 222.3 468.1 220.5 471.7 221.8C475.3 223.1 480.0 228.0 481.7 231.7C483.4 235.3 484.0 239.4 481.7 243.7C479.4 248.0 468.7 252.3 467.7 257.6C466.7 262.9 473.7 271.9 475.7 275.6C477.7 279.3 477.0 276.6 479.7 280.0C482.4 283.4 488.2 291.7 491.7 296.0C495.2 300.3 499.3 302.3 500.6 306.0C501.9 309.7 500.8 315.3 499.6 318.0C498.5 320.7 493.7 320.0 493.7 322.0C493.7 324.0 497.6 325.3 499.6 330.0C501.6 334.7 504.1 341.7 505.6 350.0C507.1 358.3 507.9 371.7 508.6 380.0C509.3 388.3 510.0 394.7 509.7 400.0C509.4 405.3 508.0 408.0 507.0 412.0C506.0 416.0 503.3 421.7 503.5 424.0C503.7 426.3 506.1 425.2 508.0 426.0C509.9 426.8 512.8 426.8 514.8 428.8C516.8 430.8 519.8 434.8 520.3 438.2C520.8 441.6 520.1 444.7 517.9 449.1C515.7 453.5 510.1 459.8 507.0 464.8C503.9 469.8 500.8 473.9 499.1 478.9C497.4 483.8 497.7 490.6 496.8 494.5C495.9 498.4 495.6 500.7 493.6 502.3C491.6 503.9 487.4 504.4 485.0 503.9C482.6 503.4 480.8 500.0 479.0 499.5C477.2 499.0 475.5 499.1 474.0 501.0C472.5 502.9 472.4 506.8 470.0 511.0C467.6 515.2 464.6 519.2 459.5 526.0C454.4 532.8 447.6 543.5 439.6 551.8C431.6 560.1 421.7 569.5 411.7 575.8C401.7 582.1 390.1 585.7 379.8 589.7C369.5 593.7 357.2 597.5 349.9 599.7C342.6 601.9 336.6 601.4 335.9 602.7C335.2 604.0 342.9 605.5 345.9 607.7C348.9 609.9 353.8 613.4 353.8 615.7C353.8 618.0 351.5 619.6 345.9 621.6C340.3 623.6 327.6 625.9 320.0 627.6C312.4 629.3 304.5 631.0 300.0 631.6C295.5 632.2 294.8 631.9 293.0 631.0C291.2 630.1 288.4 628.5 289.5 626.0C290.6 623.5 299.5 618.3 299.5 616.0C299.5 613.7 297.8 614.0 289.5 612.0C281.2 610.0 262.2 607.0 250.0 604.0C237.8 601.0 222.7 594.3 216.0 594.0C209.3 593.7 213.0 599.7 210.0 602.0C207.0 604.3 201.0 609.3 198.0 608.0C195.0 606.7 194.7 598.3 192.0 594.0C189.3 589.7 185.7 583.0 182.0 582.0C178.3 581.0 173.7 588.3 170.0 588.0C166.3 587.7 164.0 581.7 160.0 580.0C156.0 578.3 148.0 580.7 146.0 578.0C144.0 575.3 148.7 569.0 148.0 564.0C147.3 559.0 145.0 553.0 142.0 548.0C139.0 543.0 133.1 537.3 130.0 534.0C127.0 530.7 127.7 533.0 123.7 528.0C119.7 523.0 110.8 511.0 105.8 504.0C100.8 497.0 97.8 489.7 93.8 486.0C89.8 482.3 87.5 483.7 81.8 482.0C76.1 480.3 64.9 478.7 59.9 476.0C54.9 473.3 52.2 469.0 51.9 466.0C51.6 463.0 53.6 459.7 57.9 458.0C62.2 456.3 73.6 457.7 77.9 456.0C82.2 454.3 84.1 451.3 83.8 448.0C83.5 444.7 77.5 440.7 75.9 436.0C74.3 431.3 74.7 424.7 74.0 420.0C73.3 415.3 72.8 409.7 71.5 408.0C70.2 406.3 67.5 408.1 66.0 410.0C64.5 411.9 64.3 416.2 62.8 419.3C61.3 422.4 59.7 427.0 57.2 428.5C54.7 430.0 50.1 430.0 48.0 428.5C45.9 427.0 44.3 423.3 44.3 419.3C44.3 415.3 46.3 409.3 48.0 404.4C49.7 399.4 53.2 394.5 54.4 389.6C55.6 384.7 56.5 380.1 55.4 374.8C54.3 369.6 49.9 363.7 48.0 358.1C46.1 352.6 43.7 345.8 44.3 341.5C44.9 337.2 48.6 332.2 51.7 332.2C54.8 332.2 60.1 338.4 62.8 341.5C65.5 344.6 66.4 349.6 68.0 351.0C69.6 352.4 71.4 352.2 72.5 350.0C73.6 347.8 74.1 342.6 74.8 337.8C75.5 333.0 77.1 325.7 76.7 321.1C76.3 316.5 72.5 312.9 72.2 310.0C71.9 307.1 73.6 305.9 74.9 303.6C76.2 301.3 80.1 297.8 79.9 296.0C79.7 294.2 75.3 294.2 73.5 292.7C71.7 291.1 68.6 288.8 69.0 286.7C69.4 284.6 72.8 281.3 75.9 280.0C79.1 278.7 83.9 279.2 87.9 278.7C91.9 278.1 96.5 278.5 99.8 276.7C103.1 274.9 105.1 272.2 107.8 267.7C110.5 263.2 113.1 254.8 115.8 249.8C118.5 244.8 121.7 241.2 123.7 237.8C125.7 234.4 128.1 231.7 128.0 229.5C127.9 227.3 124.8 226.7 123.0 224.5C121.2 222.3 118.6 219.4 117.5 216.5C116.4 213.6 116.1 209.8 116.5 207.0C116.9 204.2 118.0 201.7 120.0 200.0C122.0 198.3 124.7 196.3 128.5 196.8C132.3 197.3 138.2 200.8 143.0 203.0C147.8 205.2 152.8 209.9 157.5 209.8C162.2 209.7 164.2 206.4 171.2 202.6C178.2 198.8 194.1 190.6 199.7 187.0Z" fill="none" stroke="#55b0a4" stroke-width="8.4" stroke-linejoin="round"/>
<path d="M200.5 187.5 L208.6 195.5 L207.5 181 Z" fill="#55b0a4"/>
<path d="M74.8 338.0C74.2 341.1 72.1 349.2 71.1 356.3C70.1 363.4 68.8 372.7 68.9 380.4C69.1 388.1 71.1 396.0 72.0 402.6C72.9 409.2 74.1 417.1 74.5 420.0" fill="none" stroke="#55b0a4" stroke-width="6" stroke-linecap="round"/>
<path d="M504.5 421.0C503.6 423.1 501.2 427.5 499.0 433.5C496.8 439.5 494.4 449.2 491.3 457.0C488.2 464.8 483.0 473.7 480.3 480.4C477.6 487.1 475.9 494.2 475.0 497.0" fill="none" stroke="#55b0a4" stroke-width="6" stroke-linecap="round"/>
<path d="M54.0 342.0C54.7 344.7 56.5 352.7 58.0 358.0C59.5 363.3 62.2 371.3 63.0 374.0" fill="none" stroke="#f5fbfa" stroke-width="3" stroke-linecap="round"/>
<path d="M511.6 438.0C510.2 440.6 505.9 448.0 503.0 453.8C500.1 459.6 496.3 466.3 494.0 472.6C491.7 478.9 489.8 488.3 489.0 491.4" fill="none" stroke="#f5fbfa" stroke-width="3" stroke-linecap="round"/>
<clipPath id="nucclip3"><path d="M148.9 394.0C149.8 383.0 152.9 362.2 156.2 350.7C159.5 339.2 163.8 333.4 168.9 325.2C174.1 317.0 180.1 308.5 187.1 301.4C194.1 294.2 202.4 287.4 210.9 282.3C219.4 277.1 229.2 273.2 238.3 270.4C247.4 267.6 256.5 266.1 265.6 265.3C274.8 264.6 283.9 264.7 293.0 265.9C302.1 267.0 311.9 269.2 320.4 272.2C328.8 275.3 334.6 278.7 343.8 284.2C353.0 289.6 364.1 296.9 375.4 305.0C386.8 313.0 401.8 322.8 411.9 332.3C422.0 341.8 429.3 350.9 436.0 362.0C442.7 373.0 448.8 388.7 452.4 398.6C455.9 408.5 456.7 413.5 457.2 421.4C457.7 429.4 456.8 437.8 455.4 446.1C454.0 454.5 452.8 463.0 448.8 471.6C444.9 480.1 438.4 490.0 431.6 497.4C424.8 504.7 417.2 510.0 407.8 515.7C398.5 521.3 387.1 526.7 375.6 531.2C364.2 535.8 351.3 540.4 339.1 543.1C326.9 545.9 314.8 547.6 302.6 547.7C290.4 547.9 279.3 547.1 266.0 544.0C252.7 541.0 235.0 535.4 223.0 529.4C211.0 523.5 202.6 517.1 194.2 508.4C185.7 499.7 178.4 487.9 172.3 477.3C166.2 466.6 161.4 454.4 157.8 444.3C154.1 434.2 151.9 425.3 150.4 416.9C149.0 408.5 147.9 405.0 148.9 394.0Z"/></clipPath>
<path d="M132.0 395.0C133.1 382.9 136.3 360.2 140.0 347.7C143.7 335.2 148.3 328.8 153.9 319.8C159.5 310.8 166.2 301.6 173.8 293.8C181.5 286.0 190.5 278.5 199.8 272.9C209.1 267.2 219.7 263.0 229.7 259.9C239.7 256.8 249.6 255.2 259.6 254.4C269.6 253.6 279.5 253.8 289.5 255.0C299.5 256.2 310.1 258.6 319.4 261.9C328.6 265.2 335.0 269.0 345.0 275.0C355.0 281.0 367.2 288.9 379.6 297.7C392.0 306.5 408.5 317.2 419.5 327.6C430.5 338.0 438.4 347.9 445.8 360.0C453.2 372.1 459.8 389.2 463.7 400.0C467.6 410.8 468.4 416.3 469.0 425.0C469.6 433.7 468.5 442.9 467.0 452.0C465.5 461.1 464.1 470.5 459.8 479.8C455.5 489.1 448.5 500.0 441.0 508.0C433.5 516.0 425.2 521.8 415.0 528.0C404.8 534.2 392.3 540.0 379.8 545.0C367.3 550.0 353.2 555.0 339.9 558.0C326.6 561.0 313.3 562.8 300.0 563.0C286.7 563.2 274.5 562.3 260.0 559.0C245.5 555.7 226.1 549.5 213.0 543.0C199.9 536.5 190.7 529.5 181.5 520.0C172.3 510.5 164.2 497.7 157.6 486.0C151.0 474.3 145.7 461.0 141.7 450.0C137.7 439.0 135.3 429.2 133.7 420.0C132.1 410.8 130.9 407.1 132.0 395.0Z" fill="#86c9c1"/>
<path d="M141.2 394.2C142.2 382.7 145.3 361.0 148.8 349.1C152.3 337.1 156.7 331.0 162.1 322.4C167.5 313.8 173.8 305.0 181.1 297.6C188.4 290.1 197.0 283.0 205.9 277.6C214.8 272.2 224.9 268.2 234.5 265.2C244.0 262.3 253.5 260.7 263.0 260.0C272.5 259.2 282.1 259.3 291.6 260.5C301.1 261.7 311.3 263.9 320.1 267.1C329.0 270.3 335.0 273.9 344.6 279.6C354.2 285.3 365.8 292.9 377.6 301.3C389.5 309.7 405.2 319.9 415.7 329.9C426.3 339.8 433.8 349.3 440.8 360.8C447.9 372.3 454.2 388.7 457.9 399.0C461.6 409.4 462.5 414.6 463.0 422.9C463.5 431.2 462.5 439.9 461.1 448.7C459.6 457.4 458.3 466.3 454.2 475.2C450.1 484.1 443.4 494.5 436.3 502.1C429.1 509.8 421.2 515.4 411.4 521.2C401.7 527.1 389.8 532.7 377.8 537.5C365.9 542.3 352.4 547.0 339.7 549.9C327.0 552.8 314.3 554.5 301.6 554.7C288.9 554.8 277.2 554.0 263.4 550.9C249.6 547.7 231.0 541.8 218.5 535.6C206.0 529.4 197.3 522.7 188.4 513.6C179.6 504.5 171.9 492.3 165.6 481.1C159.3 470.0 154.2 457.3 150.4 446.8C146.6 436.2 144.3 426.9 142.8 418.1C141.2 409.4 140.2 405.7 141.2 394.2Z" fill="#b5dcd7"/>
<path d="M148.9 394.0C149.8 383.0 152.9 362.2 156.2 350.7C159.5 339.2 163.8 333.4 168.9 325.2C174.1 317.0 180.1 308.5 187.1 301.4C194.1 294.2 202.4 287.4 210.9 282.3C219.4 277.1 229.2 273.2 238.3 270.4C247.4 267.6 256.5 266.1 265.6 265.3C274.8 264.6 283.9 264.7 293.0 265.9C302.1 267.0 311.9 269.2 320.4 272.2C328.8 275.3 334.6 278.7 343.8 284.2C353.0 289.6 364.1 296.9 375.4 305.0C386.8 313.0 401.8 322.8 411.9 332.3C422.0 341.8 429.3 350.9 436.0 362.0C442.7 373.0 448.8 388.7 452.4 398.6C455.9 408.5 456.7 413.5 457.2 421.4C457.7 429.4 456.8 437.8 455.4 446.1C454.0 454.5 452.8 463.0 448.8 471.6C444.9 480.1 438.4 490.0 431.6 497.4C424.8 504.7 417.2 510.0 407.8 515.7C398.5 521.3 387.1 526.7 375.6 531.2C364.2 535.8 351.3 540.4 339.1 543.1C326.9 545.9 314.8 547.6 302.6 547.7C290.4 547.9 279.3 547.1 266.0 544.0C252.7 541.0 235.0 535.4 223.0 529.4C211.0 523.5 202.6 517.1 194.2 508.4C185.7 499.7 178.4 487.9 172.3 477.3C166.2 466.6 161.4 454.4 157.8 444.3C154.1 434.2 151.9 425.3 150.4 416.9C149.0 408.5 147.9 405.0 148.9 394.0Z" fill="url(#nucg)"/>
<g clip-path="url(#nucclip3)">
<path d="M395.0 330.0C397.5 335.0 408.3 349.2 410.0 360.0C411.7 370.8 403.3 383.3 405.0 395.0C406.7 406.7 419.2 417.5 420.0 430.0C420.8 442.5 409.2 458.3 410.0 470.0C410.8 481.7 422.5 495.0 425.0 500.0" fill="none" stroke="#b5dcd7" stroke-width="16" stroke-linecap="round" opacity="0.8"/>
<path d="M430.0 350.0C432.5 356.7 443.3 376.7 445.0 390.0C446.7 403.3 439.2 416.7 440.0 430.0C440.8 443.3 448.3 463.3 450.0 470.0" fill="none" stroke="#aed9d3" stroke-width="12" stroke-linecap="round" opacity="0.7"/>
<path d="M360.0 470.0C365.0 473.3 380.0 487.5 390.0 490.0C400.0 492.5 410.8 488.3 420.0 485.0C429.2 481.7 440.8 472.5 445.0 470.0" fill="none" stroke="#b5dcd7" stroke-width="12" stroke-linecap="round" opacity="0.7"/>
<path d="M180.0 470.0C186.7 475.0 205.0 491.7 220.0 500.0C235.0 508.3 251.7 514.2 270.0 520.0C288.3 525.8 310.0 533.3 330.0 535.0C350.0 536.7 380.0 530.8 390.0 530.0" fill="none" stroke="#b9deda" stroke-width="18" stroke-linecap="round" opacity="0.6"/>
<path d="M300.0 520.0C306.7 524.2 326.7 541.7 340.0 545.0C353.3 548.3 373.3 540.8 380.0 540.0" fill="none" stroke="#d2ebe8" stroke-width="10" stroke-linecap="round" opacity="0.7"/>
<path d="M330.0 535.0C333.3 534.2 344.2 529.7 350.0 530.0C355.8 530.3 362.5 535.8 365.0 537.0" fill="none" stroke="#d6edea" stroke-width="8" stroke-linecap="round" opacity="0.8"/>
<path d="M385.0 405.0C386.2 410.8 392.0 429.2 392.0 440.0C392.0 450.8 386.2 465.0 385.0 470.0" fill="none" stroke="#d2ebe8" stroke-width="8" stroke-linecap="round" opacity="0.7"/>
<ellipse cx="196" cy="296" rx="9" ry="12" fill="#e6f4f2" opacity="0.85" transform="rotate(-20 196 296)"/>
<ellipse cx="243" cy="300" rx="9" ry="4" fill="#e6f4f2" opacity="0.85" transform="rotate(-15 243 300)"/>
<ellipse cx="181" cy="337" rx="9" ry="8" fill="#e6f4f2" opacity="0.85" transform="rotate(20 181 337)"/>
<ellipse cx="224" cy="332" rx="8" ry="5" fill="#e6f4f2" opacity="0.85" transform="rotate(-30 224 332)"/>
<ellipse cx="166" cy="352" rx="5" ry="8" fill="#e6f4f2" opacity="0.85" transform="rotate(10 166 352)"/>
<ellipse cx="238" cy="372" rx="5" ry="7" fill="#e6f4f2" opacity="0.85" transform="rotate(10 238 372)"/>
<ellipse cx="246" cy="272" rx="4" ry="8" fill="#e6f4f2" opacity="0.85" transform="rotate(10 246 272)"/>
</g>
<ellipse cx="283" cy="261" rx="9" ry="6" fill="#d9efec" opacity="0.7"/>
<path d="M550 163 C 522 126 452 85 366 81" fill="none" stroke="url(#ga1)" stroke-width="6"/>
<path d="M356.2 80.7 L366.6 75.6 L366.2 86.4 Z" fill="#5aae46"/>
<path d="M404 417 C 455 408 525 390 562.8 346" fill="none" stroke="url(#ga2)" stroke-width="5.9"/>
<path d="M566.9 339 L557.3 343.8 L567.1 349.8 Z" fill="#5aae46"/>
<path d="M400 473.5 L536 473.5" stroke="url(#gr1)" stroke-width="7" fill="none"/>
<rect x="533.5" y="467.5" width="6" height="11.5" fill="#c8322f"/>
<path d="M399 491 L487 576" stroke="url(#gr2)" stroke-width="6.5" fill="none"/>
<path d="M481 581.5 L496.5 568" stroke="#c8322f" stroke-width="5.5" fill="none"/>
<path d="M277 223.5 L306 234" stroke="url(#gb1)" stroke-width="4.5" fill="none"/>
<path d="M318 238 L300 241 L307 227 Z" fill="#1e1e1e"/>
<path d="M352 256.5 L281 331" stroke="url(#gb2)" stroke-width="3.4" fill="none"/>
<path d="M274.5 338 L278 324 L288 333.5 Z" fill="#1e1e1e"/>
<path d="M234.5 477 L234.5 451 L230 451 L237.7 433 L245.5 451 L240.9 451 L240.9 477 Z" fill="#111"/>
<circle cx="270.9" cy="48.8" r="7.3" fill="#a8d4b6"/>
<circle cx="270.9" cy="48.8" r="7.3" fill="url(#gd)" stroke="#8fc0a0" stroke-width="0.8"/>
<circle cx="268.7" cy="46.0" r="1.5" fill="#fff" opacity="0.35"/>
<circle cx="300.2" cy="48.8" r="7.3" fill="#62ad7b"/>
<circle cx="300.2" cy="48.8" r="7.3" fill="url(#gd)" stroke="#4a9163" stroke-width="0.8"/>
<circle cx="298.0" cy="46.0" r="1.5" fill="#fff" opacity="0.35"/>
<circle cx="316.9" cy="52.8" r="7.3" fill="#d9ebde"/>
<circle cx="316.9" cy="52.8" r="7.3" fill="url(#gd)" stroke="#c6dccc" stroke-width="0.8"/>
<circle cx="314.7" cy="50.0" r="1.5" fill="#fff" opacity="0.35"/>
<circle cx="270.9" cy="70.8" r="7.3" fill="#62ad7b"/>
<circle cx="270.9" cy="70.8" r="7.3" fill="url(#gd)" stroke="#4a9163" stroke-width="0.8"/>
<circle cx="268.7" cy="68.0" r="1.5" fill="#fff" opacity="0.35"/>
<circle cx="292.0" cy="65.8" r="7.3" fill="#258a45"/>
<circle cx="292.0" cy="65.8" r="7.3" fill="url(#gd)" stroke="#1a6a35" stroke-width="0.8"/>
<circle cx="289.8" cy="63.0" r="1.5" fill="#fff" opacity="0.35"/>
<circle cx="312.5" cy="69.5" r="7.3" fill="#a8d4b6"/>
<circle cx="312.5" cy="69.5" r="7.3" fill="url(#gd)" stroke="#8fc0a0" stroke-width="0.8"/>
<circle cx="310.3" cy="66.7" r="1.5" fill="#fff" opacity="0.35"/>
<circle cx="276.9" cy="88.8" r="7.3" fill="#a8d4b6"/>
<circle cx="276.9" cy="88.8" r="7.3" fill="url(#gd)" stroke="#8fc0a0" stroke-width="0.8"/>
<circle cx="274.7" cy="86.0" r="1.5" fill="#fff" opacity="0.35"/>
<circle cx="300.2" cy="87.5" r="7.3" fill="#62ad7b"/>
<circle cx="300.2" cy="87.5" r="7.3" fill="url(#gd)" stroke="#4a9163" stroke-width="0.8"/>
<circle cx="298.0" cy="84.7" r="1.5" fill="#fff" opacity="0.35"/>
<circle cx="583.5" cy="235.5" r="6.6" fill="#a8d4b6"/>
<circle cx="583.5" cy="235.5" r="6.6" fill="url(#gd)" stroke="#8fc0a0" stroke-width="0.8"/>
<circle cx="581.5" cy="233.0" r="1.3" fill="#fff" opacity="0.35"/>
<circle cx="561.0" cy="250.5" r="6.6" fill="#62ad7b"/>
<circle cx="561.0" cy="250.5" r="6.6" fill="url(#gd)" stroke="#4a9163" stroke-width="0.8"/>
<circle cx="559.0" cy="248.0" r="1.3" fill="#fff" opacity="0.35"/>
<circle cx="627.0" cy="244.5" r="6.6" fill="#a8d4b6"/>
<circle cx="627.0" cy="244.5" r="6.6" fill="url(#gd)" stroke="#8fc0a0" stroke-width="0.8"/>
<circle cx="625.0" cy="242.0" r="1.3" fill="#fff" opacity="0.35"/>
<circle cx="539.0" cy="265.5" r="6.6" fill="#a8d4b6"/>
<circle cx="539.0" cy="265.5" r="6.6" fill="url(#gd)" stroke="#8fc0a0" stroke-width="0.8"/>
<circle cx="537.0" cy="263.0" r="1.3" fill="#fff" opacity="0.35"/>
<circle cx="590.5" cy="263.0" r="6.6" fill="#258a45"/>
<circle cx="590.5" cy="263.0" r="6.6" fill="url(#gd)" stroke="#1a6a35" stroke-width="0.8"/>
<circle cx="588.5" cy="260.5" r="1.3" fill="#fff" opacity="0.35"/>
<circle cx="615.5" cy="262.0" r="6.6" fill="#a8d4b6"/>
<circle cx="615.5" cy="262.0" r="6.6" fill="url(#gd)" stroke="#8fc0a0" stroke-width="0.8"/>
<circle cx="613.5" cy="259.5" r="1.3" fill="#fff" opacity="0.35"/>
<circle cx="568.0" cy="276.5" r="6.6" fill="#62ad7b"/>
<circle cx="568.0" cy="276.5" r="6.6" fill="url(#gd)" stroke="#4a9163" stroke-width="0.8"/>
<circle cx="566.0" cy="274.0" r="1.3" fill="#fff" opacity="0.35"/>
<circle cx="605.0" cy="286.5" r="6.6" fill="#258a45"/>
<circle cx="605.0" cy="286.5" r="6.6" fill="url(#gd)" stroke="#1a6a35" stroke-width="0.8"/>
<circle cx="603.0" cy="284.0" r="1.3" fill="#fff" opacity="0.35"/>
<circle cx="583.0" cy="290.5" r="6.6" fill="#258a45"/>
<circle cx="583.0" cy="290.5" r="6.6" fill="url(#gd)" stroke="#1a6a35" stroke-width="0.8"/>
<circle cx="581.0" cy="288.0" r="1.3" fill="#fff" opacity="0.35"/>
<circle cx="642.0" cy="286.5" r="6.6" fill="#62ad7b"/>
<circle cx="642.0" cy="286.5" r="6.6" fill="url(#gd)" stroke="#4a9163" stroke-width="0.8"/>
<circle cx="640.0" cy="284.0" r="1.3" fill="#fff" opacity="0.35"/>
<circle cx="546.0" cy="304.5" r="6.6" fill="#a8d4b6"/>
<circle cx="546.0" cy="304.5" r="6.6" fill="url(#gd)" stroke="#8fc0a0" stroke-width="0.8"/>
<circle cx="544.0" cy="302.0" r="1.3" fill="#fff" opacity="0.35"/>
<circle cx="575.5" cy="315.0" r="6.6" fill="#62ad7b"/>
<circle cx="575.5" cy="315.0" r="6.6" fill="url(#gd)" stroke="#4a9163" stroke-width="0.8"/>
<circle cx="573.5" cy="312.5" r="1.3" fill="#fff" opacity="0.35"/>
<circle cx="598.0" cy="316.0" r="6.6" fill="#62ad7b"/>
<circle cx="598.0" cy="316.0" r="6.6" fill="url(#gd)" stroke="#4a9163" stroke-width="0.8"/>
<circle cx="596.0" cy="313.5" r="1.3" fill="#fff" opacity="0.35"/>
<circle cx="627.0" cy="310.5" r="6.6" fill="#a8d4b6"/>
<circle cx="627.0" cy="310.5" r="6.6" fill="url(#gd)" stroke="#8fc0a0" stroke-width="0.8"/>
<circle cx="625.0" cy="308.0" r="1.3" fill="#fff" opacity="0.35"/>
<circle cx="578.0" cy="460.5" r="7.3" fill="#e3a6aa"/>
<circle cx="578.0" cy="460.5" r="7.3" fill="url(#gd)" stroke="#d08f94" stroke-width="0.8"/>
<circle cx="575.8" cy="457.7" r="1.5" fill="#fff" opacity="0.35"/>
<circle cx="606.5" cy="460.5" r="7.3" fill="#c4585f"/>
<circle cx="606.5" cy="460.5" r="7.3" fill="url(#gd)" stroke="#a8454b" stroke-width="0.8"/>
<circle cx="604.3" cy="457.7" r="1.5" fill="#fff" opacity="0.35"/>
<circle cx="623.0" cy="464.5" r="7.3" fill="#f3d9da"/>
<circle cx="623.0" cy="464.5" r="7.3" fill="url(#gd)" stroke="#e6c5c7" stroke-width="0.8"/>
<circle cx="620.8" cy="461.7" r="1.5" fill="#fff" opacity="0.35"/>
<circle cx="577.5" cy="482.0" r="7.3" fill="#c4585f"/>
<circle cx="577.5" cy="482.0" r="7.3" fill="url(#gd)" stroke="#a8454b" stroke-width="0.8"/>
<circle cx="575.3" cy="479.2" r="1.5" fill="#fff" opacity="0.35"/>
<circle cx="599.0" cy="477.5" r="7.3" fill="#a52a30"/>
<circle cx="599.0" cy="477.5" r="7.3" fill="url(#gd)" stroke="#7d1d22" stroke-width="0.8"/>
<circle cx="596.8" cy="474.7" r="1.5" fill="#fff" opacity="0.35"/>
<circle cx="618.5" cy="481.5" r="7.3" fill="#e3a6aa"/>
<circle cx="618.5" cy="481.5" r="7.3" fill="url(#gd)" stroke="#d08f94" stroke-width="0.8"/>
<circle cx="616.3" cy="478.7" r="1.5" fill="#fff" opacity="0.35"/>
<circle cx="584.5" cy="499.0" r="7.3" fill="#e3a6aa"/>
<circle cx="584.5" cy="499.0" r="7.3" fill="url(#gd)" stroke="#d08f94" stroke-width="0.8"/>
<circle cx="582.3" cy="496.2" r="1.5" fill="#fff" opacity="0.35"/>
<circle cx="606.5" cy="498.0" r="7.3" fill="#c4585f"/>
<circle cx="606.5" cy="498.0" r="7.3" fill="url(#gd)" stroke="#a8454b" stroke-width="0.8"/>
<circle cx="604.3" cy="495.2" r="1.5" fill="#fff" opacity="0.35"/>
<path d="M754 187.5 L763 187.5 Q774 187.5 774 198.5 L774 357 C774 374 777.5 379.5 786.8 384 C777.5 388.5 774 394 774 411 L774 579 Q774 590 763 590 L754 590" fill="none" stroke="#1e1e1e" stroke-width="3.3" stroke-linejoin="round"/>
<path d="M560.0 582.4L559.9 584.2L559.0 585.8L557.9 587.3L557.3 588.8L557.3 590.6L557.0 592.5L556.0 594.0L554.4 594.8L552.6 595.5L551.3 596.5L550.3 598.0L549.1 599.4L547.4 600.1L545.6 599.9L543.8 599.5L542.1 599.7L540.4 600.3L538.6 600.9L536.9 600.6L535.4 599.4L534.1 598.2L532.7 597.4L530.9 597.0L529.1 596.5L527.8 595.3L527.1 593.6L526.7 591.8L525.9 590.3L524.6 589.1L523.4 587.7L522.9 585.9L523.3 584.1L524.0 582.4L524.1 580.8L523.7 579.0L523.4 577.1L523.9 575.4L525.3 574.1L526.7 573.0L527.7 571.7L528.3 570.0L529.1 568.3L530.4 567.2L532.3 566.8L534.1 566.6L535.6 566.1L537.1 564.9L538.6 563.9L540.4 563.7L542.2 564.4L543.8 565.3L545.4 565.6L547.2 565.4L549.1 565.4L550.7 566.2L551.8 567.7L552.6 569.3L553.8 570.5L555.4 571.3L557.0 572.3L557.9 573.8L558.0 575.7L557.9 577.5L558.3 579.1L559.2 580.7Z" fill="#e3f2f0" stroke="#b5dcd7" stroke-width="0.8"/>
<circle cx="539.0" cy="585.0" r="7.0" fill="#bfe0dc"/>
<path d="M609.4 613.2L608.8 614.6L608.0 615.8L607.6 617.1L607.7 618.6L607.7 620.1L607.0 621.4L605.7 622.2L604.4 622.8L603.4 623.7L602.7 625.0L601.8 626.2L600.6 626.9L599.1 627.0L597.6 626.8L596.3 627.0L595.0 627.6L593.6 628.2L592.2 628.1L590.9 627.4L589.7 626.4L588.5 625.8L587.1 625.7L585.6 625.4L584.4 624.6L583.8 623.2L583.3 621.8L582.6 620.7L581.5 619.8L580.3 618.8L579.8 617.5L580.0 616.0L580.4 614.5L580.4 613.2L579.9 611.8L579.5 610.4L579.8 608.9L580.8 607.8L581.9 606.8L582.6 605.7L583.0 604.3L583.4 602.8L584.4 601.8L585.9 601.3L587.3 601.1L588.5 600.6L589.6 599.6L590.8 598.6L592.2 598.3L593.6 598.7L595.0 599.2L596.3 599.4L597.7 599.2L599.2 599.0L600.6 599.5L601.6 600.6L602.4 601.8L603.4 602.7L604.7 603.2L606.1 603.9L607.0 605.0L607.2 606.5L607.3 608.0L607.6 609.3L608.5 610.5L609.3 611.8Z" fill="#e3f2f0" stroke="#b5dcd7" stroke-width="0.8"/>
<circle cx="593.0" cy="615.0" r="7.0" fill="#bfe0dc"/>
<path d="M520.6 633.7L520.1 634.6L519.9 635.5L520.0 636.5L520.1 637.5L519.8 638.5L519.0 639.1L518.1 639.7L517.4 640.3L517.0 641.2L516.5 642.1L515.7 642.7L514.7 642.9L513.7 642.8L512.8 643.0L511.9 643.5L511.0 644.0L510.0 644.1L509.1 643.7L508.2 643.1L507.4 642.8L506.4 642.7L505.3 642.7L504.5 642.2L503.9 641.3L503.5 640.4L503.0 639.6L502.1 639.1L501.3 638.4L500.8 637.6L500.8 636.5L501.0 635.5L501.0 634.6L500.6 633.7L500.2 632.7L500.3 631.7L500.8 630.9L501.5 630.1L502.0 629.3L502.1 628.3L502.4 627.3L503.0 626.5L503.9 626.1L504.9 625.8L505.7 625.4L506.4 624.7L507.1 623.9L508.0 623.6L509.1 623.7L510.0 624.1L511.0 624.1L511.9 623.9L512.9 623.6L513.9 623.9L514.7 624.5L515.3 625.3L516.1 625.9L517.0 626.2L518.0 626.6L518.7 627.3L519.0 628.3L519.1 629.3L519.4 630.1L520.0 630.9L520.7 631.7L520.9 632.7Z" fill="#e3f2f0" stroke="#b5dcd7" stroke-width="0.8"/>
<path d="M577.3 655.9L577.1 657.4L577.4 658.9L577.7 660.6L577.3 662.1L576.1 663.3L574.8 664.3L573.8 665.4L573.3 666.8L572.6 668.4L571.5 669.5L569.9 669.9L568.2 670.0L566.8 670.4L565.5 671.3L564.2 672.3L562.6 672.6L561.0 672.0L559.6 671.2L558.2 670.8L556.6 670.9L554.9 670.9L553.5 670.3L552.4 669.0L551.7 667.6L550.7 666.5L549.3 665.7L547.9 664.8L547.0 663.5L546.8 661.9L547.0 660.3L546.8 658.8L546.0 657.4L545.3 655.9L545.2 654.3L546.0 652.8L547.0 651.5L547.6 650.2L547.7 648.6L547.9 647.0L548.7 645.6L550.1 644.8L551.7 644.2L552.9 643.4L553.9 642.2L554.9 640.9L556.3 640.1L558.0 640.2L559.6 640.6L561.1 640.6L562.6 640.1L564.2 639.5L565.7 639.7L567.1 640.7L568.2 641.8L569.5 642.6L571.0 643.0L572.6 643.4L573.9 644.4L574.5 645.9L574.8 647.5L575.4 648.9L576.5 650.0L577.7 651.2L578.2 652.7L577.9 654.4Z" fill="#e3f2f0" stroke="#b5dcd7" stroke-width="0.8"/>
<circle cx="562.5" cy="654.0" r="8.0" fill="#bfe0dc"/>
<path d="M535.8 609.7L536.1 611.5L535.5 613.2L534.3 614.7L533.4 616.1L533.0 617.8L532.9 619.6L532.2 621.3L530.7 622.4L528.9 623.0L527.4 623.7L526.2 624.9L525.0 626.4L523.6 627.5L521.7 627.6L519.9 627.1L518.2 626.9L516.6 627.3L514.8 627.9L513.0 628.0L511.4 627.1L510.1 625.7L508.8 624.6L507.2 624.0L505.4 623.6L503.8 622.7L502.9 621.1L502.6 619.2L502.1 617.6L501.1 616.2L499.8 614.9L498.9 613.3L499.1 611.5L499.8 609.7L500.3 608.1L500.1 606.4L499.8 604.5L499.9 602.7L501.0 601.3L502.6 600.2L503.9 599.1L504.7 597.6L505.4 595.8L506.5 594.4L508.2 593.7L510.1 593.7L511.8 593.5L513.3 592.6L514.8 591.5L516.5 590.9L518.3 591.3L519.9 592.3L521.5 593.0L523.1 593.1L525.0 593.0L526.8 593.4L528.1 594.7L528.9 596.4L529.8 597.8L531.2 598.8L532.9 599.8L534.1 601.1L534.5 602.9L534.3 604.7L534.3 606.4L534.9 608.0Z" fill="#d0e9e6" stroke="#8fc9c1" stroke-width="0.9"/>
<circle cx="520.8" cy="609.7" r="7.7" fill="#8fcac3" stroke="#7dbfb7" stroke-width="0.6"/>
<path d="M591.0 596.9L590.6 598.5L589.7 600.0L588.9 601.3L588.7 602.9L588.8 604.6L588.3 606.2L587.1 607.4L585.5 608.1L584.1 608.8L583.1 610.0L582.2 611.5L581.0 612.6L579.3 612.9L577.6 612.6L576.0 612.5L574.6 613.0L573.0 613.7L571.3 614.0L569.8 613.3L568.5 612.2L567.3 611.2L565.8 610.8L564.0 610.6L562.5 609.9L561.6 608.6L561.1 606.9L560.5 605.4L559.5 604.3L558.2 603.2L557.3 601.8L557.2 600.1L557.7 598.4L558.0 596.9L557.8 595.4L557.3 593.7L557.3 592.0L558.1 590.6L559.4 589.5L560.5 588.4L561.2 587.0L561.6 585.3L562.5 583.9L564.0 583.1L565.7 582.9L567.3 582.6L568.5 581.7L569.8 580.5L571.3 579.8L573.0 580.0L574.6 580.7L576.0 581.3L577.6 581.3L579.3 581.0L581.0 581.2L582.3 582.3L583.2 583.7L584.1 585.0L585.4 585.8L587.0 586.5L588.3 587.6L588.8 589.1L588.8 590.9L588.9 592.5L589.6 593.9L590.5 595.3Z" fill="#d0e9e6" stroke="#8fc9c1" stroke-width="0.9"/>
<circle cx="573.5" cy="596.0" r="8.2" fill="#8fcac3" stroke="#7dbfb7" stroke-width="0.6"/>
<path d="M552.3 640.5L551.4 642.3L550.6 643.9L550.5 645.7L550.8 647.7L550.4 649.6L549.2 651.0L547.5 652.0L545.9 653.0L544.9 654.5L544.0 656.3L542.7 657.7L540.9 658.2L538.9 658.1L537.1 658.1L535.4 658.8L533.7 659.8L531.9 660.3L530.0 659.8L528.4 658.6L526.9 657.7L525.1 657.3L523.1 657.2L521.3 656.7L520.0 655.2L519.3 653.4L518.5 651.7L517.2 650.5L515.6 649.4L514.4 647.9L514.1 646.0L514.5 644.0L514.7 642.2L514.3 640.5L513.6 638.7L513.3 636.7L514.1 635.0L515.5 633.6L516.7 632.2L517.2 630.5L517.6 628.5L518.4 626.8L520.0 625.8L522.0 625.3L523.7 624.8L525.1 623.7L526.5 622.2L528.1 621.2L530.0 621.2L531.9 621.9L533.7 622.4L535.4 622.2L537.4 621.7L539.3 621.7L540.9 622.8L542.1 624.3L543.3 625.7L544.9 626.5L546.8 627.2L548.4 628.2L549.2 630.0L549.4 631.9L549.7 633.8L550.5 635.3L551.8 636.8L552.6 638.6Z" fill="#d0e9e6" stroke="#8fc9c1" stroke-width="0.9"/>
<circle cx="534.5" cy="638.8" r="8.2" fill="#8fcac3" stroke="#7dbfb7" stroke-width="0.6"/>
<path d="M597.0 632.0L596.4 633.6L596.5 635.2L596.9 637.0L596.8 638.8L595.8 640.2L594.3 641.3L592.9 642.3L592.1 643.7L591.4 645.4L590.4 646.9L588.8 647.6L587.0 647.7L585.3 647.8L583.8 648.5L582.3 649.6L580.7 650.3L578.9 650.0L577.3 649.0L575.9 648.3L574.2 648.1L572.4 648.2L570.7 647.8L569.4 646.7L568.5 645.0L567.7 643.5L566.4 642.5L564.8 641.6L563.6 640.4L563.1 638.7L563.3 636.9L563.4 635.2L562.9 633.6L562.0 632.0L561.6 630.3L562.1 628.6L563.3 627.1L564.3 625.8L564.7 624.2L564.8 622.4L565.4 620.7L566.8 619.6L568.5 619.0L570.1 618.4L571.3 617.3L572.4 615.8L573.8 614.7L575.6 614.5L577.3 615.0L579.0 615.3L580.6 615.0L582.3 614.4L584.1 614.2L585.7 615.0L587.0 616.3L588.2 617.5L589.7 618.2L591.4 618.6L593.0 619.4L593.9 620.9L594.3 622.7L594.7 624.3L595.6 625.7L596.9 627.0L597.7 628.5L597.7 630.3Z" fill="#d0e9e6" stroke="#8fc9c1" stroke-width="0.9"/>
<circle cx="580.7" cy="631.0" r="8.2" fill="#8fcac3" stroke="#7dbfb7" stroke-width="0.6"/>
<path d="M561.1 597.8L561.3 599.5L561.8 601.3L561.9 603.1L561.1 604.7L559.7 605.9L558.4 607.1L557.6 608.6L557.1 610.4L556.2 612.0L554.7 612.9L552.8 613.2L551.0 613.5L549.6 614.3L548.2 615.5L546.6 616.4L544.8 616.3L543.1 615.5L541.5 614.8L539.8 614.8L537.9 615.0L536.1 614.9L534.6 613.9L533.6 612.3L532.6 610.8L531.3 609.8L529.6 609.1L528.1 608.0L527.4 606.3L527.4 604.4L527.4 602.6L526.8 601.1L525.7 599.5L525.1 597.8L525.4 596.0L526.5 594.4L527.4 593.0L527.7 591.3L527.7 589.4L528.1 587.6L529.3 586.3L531.1 585.5L532.6 584.8L533.8 583.6L534.8 582.0L536.1 580.7L537.8 580.3L539.7 580.5L541.5 580.8L543.1 580.4L544.8 579.6L546.6 579.2L548.3 579.8L549.7 581.0L551.0 582.1L552.6 582.7L554.5 582.9L556.2 583.6L557.3 585.0L557.9 586.8L558.4 588.5L559.4 589.8L560.8 591.0L561.9 592.5L562.1 594.3L561.6 596.1Z" fill="#d0e9e6" stroke="#8fc9c1" stroke-width="0.9"/>
<circle cx="544.7" cy="597.8" r="8.2" fill="#8fcac3" stroke="#7dbfb7" stroke-width="0.6"/>
<path d="M570.8 622.6L571.5 624.4L571.9 626.4L571.2 628.1L569.8 629.6L568.6 630.9L567.9 632.5L567.5 634.5L566.7 636.3L565.2 637.4L563.3 637.9L561.5 638.3L560.0 639.3L558.7 640.8L557.1 641.9L555.2 642.0L553.3 641.4L551.5 640.8L549.8 640.8L547.9 641.3L545.9 641.3L544.3 640.4L543.0 638.9L541.9 637.4L540.4 636.5L538.5 635.9L536.8 634.9L535.9 633.2L535.7 631.2L535.5 629.4L534.7 627.8L533.5 626.2L532.7 624.5L532.8 622.6L533.7 620.8L534.6 619.2L534.7 617.4L534.6 615.5L534.8 613.5L535.9 612.0L537.6 611.0L539.2 610.1L540.4 608.7L541.2 606.9L542.5 605.4L544.3 604.8L546.3 604.9L548.1 604.9L549.8 604.4L551.5 603.4L553.3 602.8L555.2 603.2L556.8 604.4L558.3 605.4L560.0 605.9L562.0 606.0L563.9 606.4L565.2 607.8L566.0 609.6L566.7 611.4L567.9 612.7L569.5 613.8L570.8 615.2L571.2 617.1L570.8 619.0L570.5 620.9Z" fill="#d0e9e6" stroke="#8fc9c1" stroke-width="0.9"/>
<circle cx="554.7" cy="622.0" r="8.5" fill="#8fcac3" stroke="#7dbfb7" stroke-width="0.6"/>
<g transform="translate(205,100) scale(0.17106)">
<path d="M61 188 L61 545 A36 10 0 0 0 133 545 L133 188 Z" fill="#7f6cc5" stroke="#6a58b0" stroke-width="4" stroke-linejoin="round"/>
<ellipse cx="97" cy="188" rx="36" ry="10" fill="#9a88d8" stroke="#6a58b0" stroke-width="4"/>
<path d="M252 148 L262 560 A38 10 0 0 0 338 560 L328 148 Z" fill="#33669a" stroke="#1e4166" stroke-width="5" stroke-linejoin="round"/>
<ellipse cx="290" cy="148" rx="38" ry="10" fill="#3d72a6" stroke="#1e4166" stroke-width="5"/>
<path d="M334 165 L322 560 A38 10 0 0 0 398 560 L410 165 Z" fill="#33669a" stroke="#1e4166" stroke-width="5" stroke-linejoin="round"/>
<ellipse cx="372" cy="165" rx="38" ry="10" fill="#3d72a6" stroke="#1e4166" stroke-width="5"/>
<path d="M159 188 L162 595 A38 10 0 0 0 238 595 L235 188 Z" fill="#33669a" stroke="#1e4166" stroke-width="5" stroke-linejoin="round"/>
<ellipse cx="197" cy="188" rx="38" ry="10" fill="#3d72a6" stroke="#1e4166" stroke-width="5"/>
<path d="M417 192 L357 575 A38 10 0 0 0 433 575 L493 192 Z" fill="#33669a" stroke="#1e4166" stroke-width="5" stroke-linejoin="round"/>
<ellipse cx="455" cy="192" rx="38" ry="10" fill="#3d72a6" stroke="#1e4166" stroke-width="5"/>
<path d="M210 217 L167 600 A36 10 0 0 0 239 600 L282 217 Z" fill="#4079ae" stroke="#1e4166" stroke-width="5" stroke-linejoin="round"/>
<ellipse cx="246" cy="217" rx="36" ry="10" fill="#4a84b8" stroke="#1e4166" stroke-width="5"/>
<path d="M346 222 L421 598 A37 10 0 0 0 495 598 L420 222 Z" fill="#4079ae" stroke="#1e4166" stroke-width="5" stroke-linejoin="round"/>
<ellipse cx="383" cy="222" rx="37" ry="10" fill="#4a84b8" stroke="#1e4166" stroke-width="5"/>
<path d="M273 238 L273 622 A39 10 0 0 0 351 622 L351 238 Z" fill="#4079ae" stroke="#1e4166" stroke-width="5" stroke-linejoin="round"/>
<ellipse cx="312" cy="238" rx="39" ry="10" fill="#4a84b8" stroke="#1e4166" stroke-width="5"/>
<path d="M185 185 C190 150 230 125 250 165 L262 212" fill="none" stroke="#14202e" stroke-width="8.5" stroke-linecap="round"/>
<path d="M280 148 C285 95 350 75 372 160" fill="none" stroke="#14202e" stroke-width="8.5" stroke-linecap="round"/>
<path d="M312 235 C315 170 375 150 397 215" fill="none" stroke="#14202e" stroke-width="8.5" stroke-linecap="round"/>
<path d="M355 65 C385 85 410 85 440 62 C470 45 490 70 478 115 C470 145 462 160 460 185" fill="none" stroke="#14202e" stroke-width="8.5" stroke-linecap="round"/>
<path d="M190 600 C200 650 260 680 292 625" fill="none" stroke="#14202e" stroke-width="8.5" stroke-linecap="round"/>
<path d="M465 600 C490 650 545 640 585 600 C620 565 670 565 695 615" fill="none" stroke="#14202e" stroke-width="8.5" stroke-linecap="round"/>
</g>
<path d="M327.8 225.9L337.8 218.3L349.7 223.9L350.7 236.9L340.8 242.9L328.8 237.9Z" fill="#dc7a36" stroke="#b8622a" stroke-width="0.8" stroke-linejoin="round"/>
<path d="M349.7 223.9L359.7 219.3L368.7 229.5L362.7 238.9L350.7 236.9Z" fill="#dc7a36" stroke="#b8622a" stroke-width="0.8" stroke-linejoin="round"/>
<path d="M362.7 238.9L362.1 250.8" stroke="#8c8c8c" stroke-width="1.4"/>
<path d="M381.6 253.8L389.6 260.4L378.6 263.4" fill="none" stroke="#b8622a" stroke-width="1"/>
<path d="M362.1 250.8L371.7 244.9L381.6 253.8L378.6 263.4L365.7 263.4Z" fill="#dc7a36" stroke="#b8622a" stroke-width="0.8" stroke-linejoin="round"/>
<circle cx="389.6" cy="260.4" r="3.3" fill="#e58a45" stroke="#b8622a" stroke-width="0.8"/>
<path d="M184.4 413.5 C190 415.5 200 417.5 212 416.5" fill="none" stroke="#262626" stroke-width="1.3" stroke-linecap="round"/>
<path d="M222 419.5 C230 428 244 430 254 428.3 C265 426.5 276 421 281 412" fill="none" stroke="#262626" stroke-width="1.3" stroke-linecap="round"/>
<path d="M292 413.3 C300 414.5 310 413.5 320 409.5 C328 406 334 402.5 340 399" fill="none" stroke="#262626" stroke-width="1.3" stroke-linecap="round"/>
<path d="M347 403.5 C351 408 360 411.5 371.6 413.3" fill="none" stroke="#262626" stroke-width="1.3" stroke-linecap="round"/>
<g transform="translate(220.8,404.8) rotate(42.0)">
<path d="M-5 -14 L7 -14 A7 14 0 0 1 7 14 L-5 14 Z" fill="#a2a2a2"/>
<ellipse cx="-5" cy="0" rx="7.2" ry="14" fill="#b6b6b6"/>
<path d="M-0.8 -14 A7 14 0 0 1 -0.8 14 M3 -14 A7 14 0 0 1 3 14" fill="none" stroke="#2a2a2a" stroke-width="1.2"/>
</g>
<g transform="translate(281.7,402.6) rotate(5.0)">
<path d="M-5 -15.5 L7 -15.5 A7 15.5 0 0 1 7 15.5 L-5 15.5 Z" fill="#a2a2a2"/>
<ellipse cx="-5" cy="0" rx="7.2" ry="15.5" fill="#b6b6b6"/>
<path d="M-0.8 -15.5 A7 15.5 0 0 1 -0.8 15.5 M3 -15.5 A7 15.5 0 0 1 3 15.5" fill="none" stroke="#2a2a2a" stroke-width="1.2"/>
</g>
<g transform="translate(344.7,389.6) rotate(32.0)">
<path d="M-5 -14 L7 -14 A7 14 0 0 1 7 14 L-5 14 Z" fill="#a2a2a2"/>
<ellipse cx="-5" cy="0" rx="7.2" ry="14" fill="#b6b6b6"/>
<path d="M-0.8 -14 A7 14 0 0 1 -0.8 14 M3 -14 A7 14 0 0 1 3 14" fill="none" stroke="#2a2a2a" stroke-width="1.2"/>
</g>
<g fill="#27497a">
<path d="M264.0 512.4L263.9 516.5L263.6 520.7L262.6 524.9L260.8 529.0L258.1 532.5L254.6 535.2L250.5 537.0L246.3 538.0L242.1 538.3L238.0 538.4L233.9 538.3L229.7 538.0L225.5 537.0L221.4 535.2L217.9 532.5L215.2 529.0L213.4 524.9L212.4 520.7L212.1 516.5L212.0 512.4L212.1 508.3L212.4 504.1L213.4 499.9L215.2 495.8L217.9 492.3L221.4 489.6L225.5 487.8L229.7 486.8L233.9 486.5L238.0 486.4L242.1 486.5L246.3 486.8L250.5 487.8L254.6 489.6L258.1 492.3L260.8 495.8L262.6 499.9L263.6 504.1L263.9 508.3Z"/>
<circle cx="262.8" cy="512.2" r="7.1"/>
<circle cx="262.9" cy="521.9" r="7.0"/>
<circle cx="259.8" cy="530.3" r="7.0"/>
<circle cx="249.4" cy="538.2" r="6.2"/>
<circle cx="241.9" cy="537.0" r="7.6"/>
<circle cx="233.1" cy="536.3" r="8.0"/>
<circle cx="220.3" cy="534.7" r="7.2"/>
<circle cx="214.9" cy="529.3" r="7.1"/>
<circle cx="211.6" cy="518.7" r="6.5"/>
<circle cx="212.9" cy="507.9" r="6.9"/>
<circle cx="214.6" cy="497.8" r="7.3"/>
<circle cx="221.4" cy="489.2" r="6.9"/>
<circle cx="233.2" cy="488.4" r="8.0"/>
<circle cx="241.3" cy="486.3" r="6.6"/>
<circle cx="249.5" cy="487.2" r="6.1"/>
<circle cx="258.3" cy="493.3" r="7.7"/>
<circle cx="263.2" cy="504.7" r="7.7"/>
</g>
<circle cx="243.9" cy="535.1" r="4.2" fill="#2b4e80" opacity="0.45"/>
<circle cx="230.6" cy="518.0" r="4.6" fill="#2b4e80" opacity="0.45"/>
<circle cx="236.8" cy="521.8" r="3.8" fill="#2f5388" opacity="0.45"/>
<circle cx="238.5" cy="502.4" r="3.6" fill="#1f3f6d" opacity="0.45"/>
<circle cx="253.9" cy="513.5" r="4.2" fill="#2b4e80" opacity="0.45"/>
<circle cx="223.5" cy="506.7" r="3.5" fill="#2b4e80" opacity="0.45"/>
<circle cx="239.9" cy="497.4" r="4.0" fill="#2f5388" opacity="0.45"/>
<circle cx="227.8" cy="517.9" r="3.7" fill="#2b4e80" opacity="0.45"/>
<circle cx="230.3" cy="534.1" r="3.5" fill="#2f5388" opacity="0.45"/>
<circle cx="256.2" cy="511.9" r="4.4" fill="#1f3f6d" opacity="0.45"/>
<circle cx="249.6" cy="511.6" r="3.6" fill="#2b4e80" opacity="0.45"/>
<circle cx="231.8" cy="523.9" r="3.2" fill="#1f3f6d" opacity="0.45"/>
<circle cx="242.8" cy="530.6" r="3.0" fill="#2f5388" opacity="0.45"/>
<circle cx="227.1" cy="523.7" r="5.4" fill="#2f5388" opacity="0.45"/>
<circle cx="243.1" cy="503.4" r="4.0" fill="#2b4e80" opacity="0.45"/>
<circle cx="251.3" cy="531.7" r="5.0" fill="#1f3f6d" opacity="0.45"/>
<circle cx="236.4" cy="501.8" r="4.6" fill="#2b4e80" opacity="0.45"/>
<circle cx="246.0" cy="535.2" r="5.2" fill="#2b4e80" opacity="0.45"/>
<text x="339.5" y="49.4" font-size="22.8" fill="#5d8f55" text-anchor="start" >CGRP</text>
<text x="135" y="127.5" font-size="21.4" fill="#a05aa6" text-anchor="start" >RAMP1</text>
<text x="295.2" y="127.5" font-size="22.8" fill="#3c79b6" text-anchor="start" >CRLR</text>
<text x="28.8" y="194.5" font-size="27.7" fill="#000" text-anchor="start" >ILC2s</text>
<text x="378.8" y="290.5" font-size="22.6" fill="#9b5a45" text-anchor="start" >cAMP</text>
<text x="156" y="365.1" font-size="22.7" fill="#000" text-anchor="start" >CGRP response genes</text>
<text x="263.5" y="454.9" font-size="22.7" fill="#5d8f55" text-anchor="start" >Increase chromatin</text>
<text x="263.5" y="479.7" font-size="22.7" fill="#5d8f55" text-anchor="start" >accessibility</text>
<text x="490.5" y="205.7" font-size="22.75" fill="#5d8f55" text-anchor="start" >Self CGRP secretion</text>
<text x="583.5" y="424.8" font-size="22.8" fill="#b8312f" text-anchor="start" >IL-13 secretion</text>
<text x="563.3" y="563.8" font-size="22.75" fill="#b8312f" text-anchor="start" >Cell proliferation</text>
<text x="216.6" y="518.1" font-size="18.5" fill="#fff" text-anchor="start" >PAC1</text>
<text x="890.6" y="377.9" font-size="22.65" fill="#b8312f" text-anchor="middle" >Inhibition of type</text>
<text x="891" y="403.5" font-size="22.75" fill="#b8312f" text-anchor="middle" >II inflammation</text>
<text transform="translate(704.8,204.8) scale(1.35,1)" x="-3.61" y="0" font-size="27.8" fill="#5d8f55">↑</text>
<text transform="translate(738.6,424.2) scale(1.35,1)" x="-3.61" y="0" font-size="27.8" fill="#b8312f">↓</text>
<text transform="translate(731.8,563.3) scale(1.35,1)" x="-3.61" y="0" font-size="27.8" fill="#b8312f">↓</text>
</svg>
</body></html>
